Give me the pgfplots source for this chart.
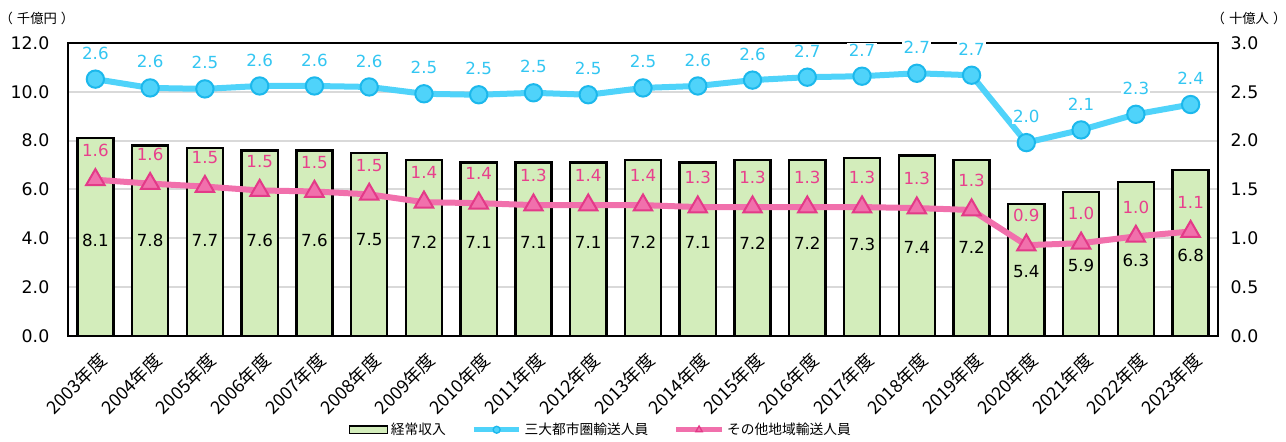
\documentclass[border=0pt]{standalone}
\usepackage{fontspec}
\setmainfont{DejaVu Sans}
\newfontfamily\jp{Noto Sans CJK JP}
\usepackage{pgfplots}
\usepackage{pgfplotstable}
\pgfplotsset{compat=1.18}
\definecolor{barfill}{HTML}{D3EDBB}
\definecolor{blueline}{HTML}{4FD3FA}
\definecolor{blueedge}{HTML}{1CB8EC}
\definecolor{bluelabel}{HTML}{33C6F2}
\definecolor{pinkline}{HTML}{F170AC}
\definecolor{pinkedge}{HTML}{E33A88}
\definecolor{pinklabel}{HTML}{E8408C}
\definecolor{gridgray}{HTML}{D9D9D9}
\newcommand\fs[1]{\fontsize{#1}{#1}\selectfont}

\pgfplotstableread{
x rev revy metro metrol other otherl
0 8.1 3.93 2.63 2.6 1.60 1.6
1 7.8 3.93 2.54 2.6 1.56 1.6
2 7.7 3.93 2.53 2.5 1.53 1.5
3 7.6 3.93 2.56 2.6 1.49 1.5
4 7.6 3.93 2.56 2.6 1.48 1.5
5 7.5 3.93 2.55 2.6 1.45 1.5
6 7.2 3.85 2.48 2.5 1.37 1.4
7 7.1 3.85 2.47 2.5 1.36 1.4
8 7.1 3.85 2.49 2.5 1.34 1.3
9 7.1 3.85 2.47 2.5 1.34 1.4
10 7.2 3.85 2.54 2.5 1.34 1.4
11 7.1 3.85 2.56 2.6 1.32 1.3
12 7.2 3.80 2.62 2.6 1.32 1.3
13 7.2 3.80 2.65 2.7 1.32 1.3
14 7.3 3.75 2.66 2.7 1.32 1.3
15 7.4 3.64 2.69 2.7 1.31 1.3
16 7.2 3.64 2.67 2.7 1.29 1.3
17 5.4 2.62 1.98 2.0 0.93 0.9
18 5.9 2.91 2.11 2.1 0.95 1.0
19 6.3 3.11 2.27 2.3 1.02 1.0
20 6.8 3.32 2.37 2.4 1.07 1.1
}\datatable

\begin{document}
\begin{tikzpicture}
\useasboundingbox (-51pt,-79.5pt) rectangle (913.5pt,252pt);
\begin{axis}[
  scale only axis, width=862.5pt, height=219.75pt,
  xmin=-0.5, xmax=20.5, ymin=0, ymax=12,
  ytick={0,2,...,12},
  xtick={0,...,20},
  xticklabels={2003年度,2004年度,2005年度,2006年度,2007年度,2008年度,2009年度,2010年度,2011年度,2012年度,2013年度,2014年度,2015年度,2016年度,2017年度,2018年度,2019年度,2020年度,2021年度,2022年度,2023年度},
  ytick pos=left, xtick pos=bottom,
  major tick length=0pt,
  axis line style={line width=1.8pt, black},
  ymajorgrids, grid style={gridgray, line width=1.5pt},
  /pgf/number format/assume math mode=true,
  yticklabel style={/pgf/number format/fixed, /pgf/number format/fixed zerofill, /pgf/number format/precision=1, font=\fs{13}, xshift=-10.5pt},
  xticklabel style={font=\jp\fs{13.5}, xshift=1.5pt, yshift=-9.5pt, rotate=45, anchor=north east, inner sep=1pt},
  clip=false,
]
\addplot[ybar, bar width=0.66, fill=barfill, draw=black, line width=1.8pt] table[x=x, y=rev] {\datatable};
\addplot[draw=none, mark=none, nodes near coords, point meta=explicit symbolic,
  every node near coord/.append style={anchor=center, font=\fs{12.5}, text=black}]
  table[x=x, y=revy, meta=rev] {\datatable};
\node[font=\jp\fs{10}] at (rel axis cs:-0.0270,1.085) {（\hspace{0.3em}千億円\hspace{0.3em}）};
\node[font=\jp\fs{10}] at (rel axis cs:1.027,1.085) {（\hspace{0.3em}十億人\hspace{0.3em}）};
\end{axis}
\begin{axis}[
  scale only axis, width=862.5pt, height=219.75pt,
  xmin=-0.5, xmax=20.5, ymin=0, ymax=3,
  axis x line=none, axis y line*=right,
  y axis line style={draw=none},
  ytick={0,0.5,...,3},
  major tick length=0pt,
  /pgf/number format/assume math mode=true,
  yticklabel style={/pgf/number format/fixed, /pgf/number format/fixed zerofill, /pgf/number format/precision=1, font=\fs{13}, xshift=6pt},
  clip=false,
  legend columns=3,
  legend style={draw=none, fill=none, at={(0.4635,-0.32)}, anchor=center, font=\jp\fs{10.3},
    /tikz/every even column/.append style={column sep=17pt}},
]
\addlegendimage{legend image code/.code={\draw[fill=barfill, draw=black, line width=1.3pt] (0cm,-0.1cm) rectangle (1.0cm,0.1cm);}}
\addlegendentry{経常収入}
\addplot[blueline, line width=4.5pt, mark=*, mark size=6.5pt,
  mark options={fill=blueline, draw=blueedge, line width=1.5pt},
  legend image code/.code={\draw[mark=none, blueline, line width=4pt] (0cm,0cm) -- (1.2cm,0cm);
     \draw[blueedge, fill=blueline, line width=1pt] (0.6cm,0cm) circle (2.6pt);},
  nodes near coords, point meta=explicit symbolic,
  every node near coord/.append style={anchor=center, yshift=19.5pt, font=\fs{12.5}, text=bluelabel, fill=white, inner sep=1pt}]
  table[x=x, y=metro, meta=metrol] {\datatable};
\addlegendentry{三大都市圏輸送人員}
\addplot[pinkline, line width=4.5pt, mark=triangle*, mark size=8pt,
  mark options={fill=pinkline, draw=pinkedge, line width=1.5pt},
  legend image code/.code={\draw[mark=none, pinkline, line width=4pt] (0cm,0cm) -- (1.2cm,0cm);
     \draw[pinkedge, fill=pinkline, line width=1pt] (0.6cm,0.1cm) -- (0.685cm,-0.05cm) -- (0.515cm,-0.05cm) -- cycle;},
  nodes near coords, point meta=explicit symbolic,
  every node near coord/.append style={anchor=center, yshift=22pt, font=\fs{12.5}, text=pinklabel, inner sep=1pt}]
  table[x=x, y=other, meta=otherl] {\datatable};
\addlegendentry{その他地域輸送人員}
\end{axis}
\end{tikzpicture}
\end{document}
